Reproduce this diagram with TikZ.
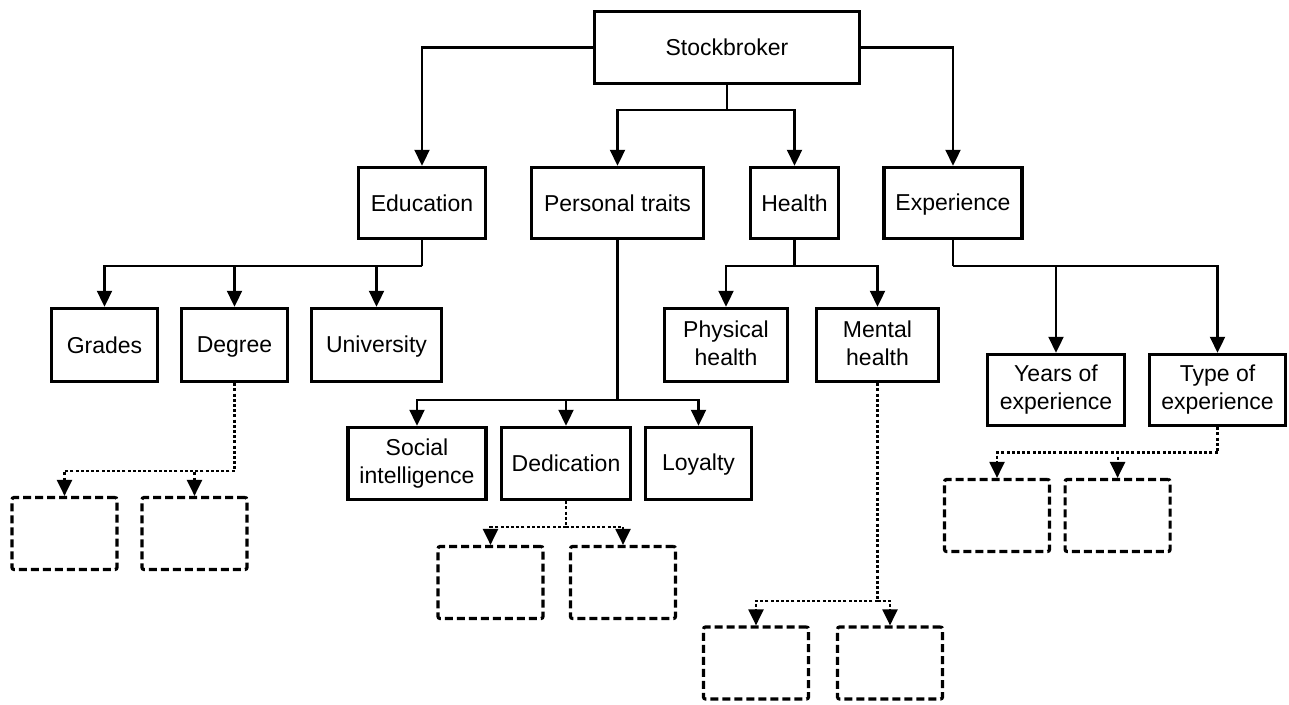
\documentclass[tikz,border=0pt]{standalone}
\usepackage{fontspec}
\setmainfont{Liberation Sans}
\usetikzlibrary{arrows.meta}
% strut that keeps capitals centred in a box and baselines aligned
\newcommand\capstrut{\rule[-3pt]{0pt}{22.5pt}}
\begin{document}
\begin{tikzpicture}[x=1pt,y=-1pt,
  box/.style={draw, line width=3.5pt, inner sep=0pt, align=center,
    font=\fontsize{23}{28}\selectfont, minimum height=71pt,
    execute at begin node=\capstrut, execute at end node=\capstrut},
  ghost/.style={draw, line width=3.2pt, dash pattern=on 8pt off 4pt,
    rounded corners=2pt, inner sep=0pt, minimum width=105pt, minimum height=72pt},
  trunk/.style={line width=2.3pt},
  link/.style={trunk, -{Triangle[length=16pt,width=15pt]}},
  hinttrunk/.style={line width=2.2pt, dash pattern=on 3pt off 2.2pt},
  hint/.style={hinttrunk, -{Triangle[length=16pt,width=15pt]}},
]
\useasboundingbox (0,0) rectangle (1289,704);

% top level
\node[box, minimum width=265pt, minimum height=72pt] (stock) at (727,47.5) {Stockbroker};

% second level
\node[box, minimum width=127pt] (edu)    at (422,203)   {Education};
\node[box, minimum width=172pt] (pers)   at (617.5,203) {Personal traits};
\node[box, minimum width=88pt]  (health) at (794.5,203) {Health};
\node[box, minimum width=138pt] (exper)  at (953,203)   {Experience};

% third level
\node[box, minimum width=106pt, minimum height=73pt] (grades) at (104.5,345) {Grades};
\node[box, minimum width=106pt, minimum height=73pt] (degree) at (234.5,345) {Degree};
\node[box, minimum width=130pt, minimum height=73pt] (univ)   at (376.5,345) {University};
\node[box, minimum width=123pt, minimum height=73pt] (phys)   at (726,345)   {Physical\\health};
\node[box, minimum width=122pt, minimum height=73pt] (mental) at (877.5,345) {Mental\\health};
\node[box, minimum width=138pt, minimum height=72pt] (social) at (417,463.5) {Social\\intelligence};
\node[box, minimum width=129pt, minimum height=72pt] (dedic)  at (566,463.5) {Dedication};
\node[box, minimum width=106pt, minimum height=72pt] (loyal)  at (698.5,463.5) {Loyalty};
\node[box, minimum width=137pt] (years) at (1056,390)   {Years of\\experience};
\node[box, minimum width=136pt] (type)  at (1217.5,390) {Type of\\experience};

% open placeholders
\node[ghost] (d1) at (64.5,533.5) {};
\node[ghost] (d2) at (194.5,533.5) {};
\node[ghost] (d3) at (490.5,582.5) {};
\node[ghost] (d4) at (623,582.5) {};
\node[ghost] (d5) at (756,663) {};
\node[ghost] (d6) at (890,663) {};
\node[ghost] (d7) at (997,515.5) {};
\node[ghost] (d8) at (1117.6,515.5) {};

% junctions
\coordinate (jst) at (727,110);
\coordinate (jed) at (422,266);
\coordinate (jpe) at (617.5,400);
\coordinate (jhe) at (794.5,266);
\coordinate (jex) at (953,266);
\coordinate (jdg) at (234.5,470.7);
\coordinate (jdd) at (566,527);
\coordinate (jmh) at (877.5,600.7);
\coordinate (jty) at (1217.5,452.5);

% solid connectors
\draw[link] (stock.west) -| (edu.north);
\draw[link] (stock.east) -| (exper.north);
\draw[trunk] (stock.south) -- (jst);
\draw[link] (jst) -| (pers.north);
\draw[link] (jst) -| (health.north);

\draw[trunk] (edu.south) -- (jed);
\draw[link] (jed) -| (grades.north);
\draw[link] (jed) -| (degree.north);
\draw[link] (jed) -| (univ.north);

\draw[trunk] (pers.south) -- (jpe);
\draw[link] (jpe) -| (social.north);
\draw[link] (jpe) -| (dedic.north);
\draw[link] (jpe) -| (loyal.north);

\draw[trunk] (health.south) -- (jhe);
\draw[link] (jhe) -| (phys.north);
\draw[link] (jhe) -| (mental.north);

\draw[trunk] (exper.south) -- (jex);
\draw[link] (jex) -| (years.north);
\draw[link] (jex) -| (type.north);

% dotted connectors
\draw[hinttrunk] (degree.south) -- (jdg);
\draw[hint] (jdg) -| (d1.north);
\draw[hint] (jdg) -| (d2.north);

\draw[hinttrunk] (dedic.south) -- (jdd);
\draw[hint] (jdd) -| (d3.north);
\draw[hint] (jdd) -| (d4.north);

\draw[hinttrunk] (mental.south) -- (jmh);
\draw[hint] (jmh) -| (d5.north);
\draw[hint] (jmh) -| (d6.north);

\draw[hinttrunk] (type.south) -- (jty);
\draw[hint] (jty) -| (d7.north);
\draw[hint] (jty) -| (d8.north);
\end{tikzpicture}
\end{document}
